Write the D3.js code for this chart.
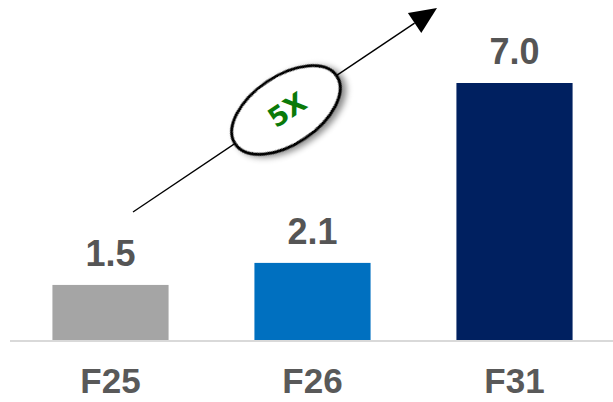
<!DOCTYPE html>
<html><head><meta charset="utf-8">
<script src="https://cdn.jsdelivr.net/npm/d3@7"></script>
<style>html,body{margin:0;padding:0;background:#fff;}svg{display:block;}</style>
</head><body>
<svg id="chart" width="613" height="402"></svg>
<script>
const categories = ["F25", "F26", "F31"];
const values = [1.5, 2.1, 7.0];
const barColors = ["#a5a5a5", "#0070c0", "#002060"];
const growthLabel = "5X";

const W = 613, H = 402;
const svg = d3.select("#chart");

const x = d3.scaleBand().domain(categories).range([10, 615]).paddingInner(0.425).paddingOuter(0.21);
const y = d3.scaleLinear().domain([0, 7]).range([340, 83]);

// baseline
svg.append("line").attr("x1", 10).attr("x2", W).attr("y1", 341).attr("y2", 341)
  .attr("stroke", "#d9d9d9").attr("stroke-width", 2);

svg.selectAll("rect.bar").data(values).enter().append("rect")
  .attr("class", "bar")
  .attr("x", (d, i) => x(categories[i]))
  .attr("width", x.bandwidth())
  .attr("y", d => y(d))
  .attr("height", d => y(0) - y(d))
  .attr("fill", (d, i) => barColors[i]);

svg.selectAll("text.val").data(values).enter().append("text")
  .attr("class", "val")
  .attr("x", (d, i) => x(categories[i]) + x.bandwidth() / 2)
  .attr("y", d => y(d) - 19)
  .attr("text-anchor", "middle")
  .attr("font-family", "Liberation Sans, Arial, sans-serif")
  .attr("font-weight", "bold").attr("font-size", 36)
  .attr("fill", "#555555")
  .text(d => d.toFixed(1));

// x axis labels
const xAxis = d3.axisBottom(x).tickSize(0).tickPadding(0);
const gx = svg.append("g").attr("transform", "translate(0,393)").call(xAxis);
gx.select(".domain").remove();
gx.selectAll("text")
  .attr("dy", 0)
  .attr("font-family", "Liberation Sans, Arial, sans-serif")
  .attr("font-weight", "bold").attr("font-size", 35)
  .attr("fill", "#595959");

// arrow annotation
const defs = svg.append("defs");
const f = defs.append("filter").attr("id", "sh").attr("x", "-30%").attr("y", "-30%").attr("width", "160%").attr("height", "160%");
f.append("feDropShadow").attr("dx", 3).attr("dy", 4).attr("stdDeviation", 3)
  .attr("flood-color", "#000").attr("flood-opacity", 0.45);

const x0 = 133, y0 = 212, x1 = 437, y1 = 8;
const ang = Math.atan2(y1 - y0, x1 - x0);
const headLen = 27, headW = 12;
const bx = x1 - headLen * Math.cos(ang), by = y1 - headLen * Math.sin(ang);
svg.append("line").attr("x1", x0).attr("y1", y0).attr("x2", bx).attr("y2", by)
  .attr("stroke", "#000").attr("stroke-width", 1.4);
const px = -Math.sin(ang), py = Math.cos(ang);
svg.append("path")
  .attr("d", `M${x1},${y1}L${bx + px * headW},${by + py * headW}L${bx - px * headW},${by - py * headW}Z`)
  .attr("fill", "#000");

const cx = 286, cy = 110, deg = ang * 180 / Math.PI;
const g = svg.append("g").attr("transform", `translate(${cx},${cy}) rotate(${deg})`);
g.append("ellipse").attr("rx", 61).attr("ry", 34)
  .attr("fill", "#fff").attr("stroke", "#000").attr("stroke-width", 3.2)
  .attr("filter", "url(#sh)");
g.append("text").attr("x", 1).attr("y", 10)
  .attr("text-anchor", "middle")
  .attr("font-family", "DejaVu Sans, Verdana, sans-serif")
  .attr("font-weight", "bold").attr("font-size", 27)
  .attr("fill", "#0a7a0a")
  .text(growthLabel);
</script>
</body></html>
